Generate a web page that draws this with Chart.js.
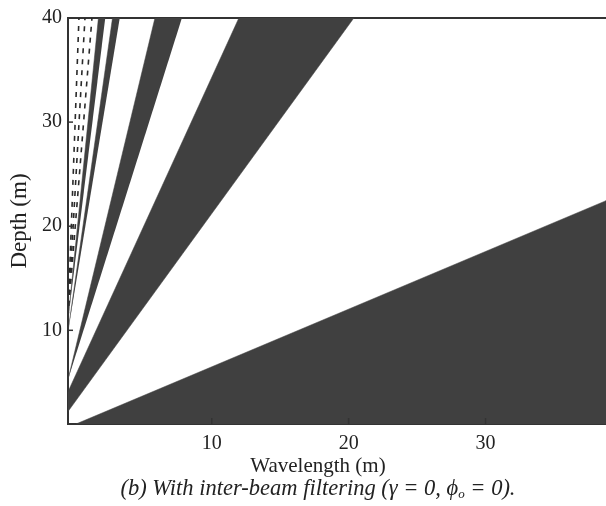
<!DOCTYPE html>
<html><head><meta charset="utf-8">
<script src="https://cdn.jsdelivr.net/npm/chart.js@4"></script>
<style>html,body{margin:0;padding:0;background:#fff}#wrap{width:606px;height:506px}</style>
</head><body><div id="wrap"><canvas id="c" width="606" height="506"></canvas></div>
<script>
// Axis ranges and tick labels
const wavelengthRange = [-0.5, 38.8];
const depthRange = [1, 40];
const wavelengthTicks = [10, 20, 30];
const depthTicks = [10, 20, 30, 40];

// Outlines of the dark regions, [wavelength, depth]
const wedgeBottom = [[0.08, 1], [38.8, 22.45], [38.8, 1]];
const wedgeWide   = [[-0.5, 4.1], [11.98, 40], [20.38, 40], [-0.5, 2.2]];
const wedgeMid    = [[-0.5, 5.27], [5.85, 40], [7.82, 40]];
const bandRight   = [[-0.5, 9.9], [2.75, 40], [3.28, 40]];
const bandLeft    = [[-0.5, 11.0], [1.72, 40], [2.22, 40]];
// Dashed lines
const dash1 = [[-0.5, 11.3], [0.30, 40]];
const dash2 = [[-0.5, 11.3], [0.74, 40]];
const dash3 = [[-0.5, 11.3], [1.25, 40]];

const FILL = '#404040';
const INK = '#222222';
const SERIF = '"Liberation Serif", "Times New Roman", serif';

const pts = a => a.map(p => ({x: p[0], y: p[1]}));
function shape(arr) {
  return {data: pts(arr), showLine: true, fill: 'shape', backgroundColor: FILL,
          borderColor: FILL, borderWidth: 0.5, pointRadius: 0, tension: 0};
}
function dashed(arr) {
  return {data: pts(arr), showLine: true, fill: false, borderColor: '#2a2a2a',
          borderWidth: 1.6, borderDash: [5, 6], pointRadius: 0};
}

const innerTicks = {
  id: 'innerTicks',
  afterDraw(chart) {
    const {ctx, chartArea: a, scales: {x, y}} = chart;
    ctx.save();
    ctx.strokeStyle = '#333'; ctx.lineWidth = 1.5;
    wavelengthTicks.forEach(v => {
      const px = x.getPixelForValue(v);
      ctx.beginPath(); ctx.moveTo(px, a.bottom); ctx.lineTo(px, a.bottom - 6); ctx.stroke();
    });
    depthTicks.forEach(v => {
      const py = y.getPixelForValue(v);
      ctx.beginPath(); ctx.moveTo(a.left, py); ctx.lineTo(a.left + 5, py); ctx.stroke();
    });
    ctx.restore();
  }
};

const texts = {
  id: 'texts',
  afterDraw(chart) {
    const ctx = chart.ctx;
    ctx.save();
    ctx.fillStyle = INK;
    ctx.textBaseline = 'middle';
    ctx.textAlign = 'center';
    ctx.font = '21px ' + SERIF;
    ctx.fillText('Wavelength (m)', 318, 466);
    // caption with subscript
    const p1 = '(b) With inter-beam filtering (\u03B3 = 0, \u03D5';
    const sub = 'o';
    const p2 = ' = 0).';
    const big = 'italic 22.5px ' + SERIF, small = 'italic 13px ' + SERIF;
    ctx.font = big; const w1 = ctx.measureText(p1).width, w3 = ctx.measureText(p2).width;
    ctx.font = small; const w2 = ctx.measureText(sub).width;
    let x0 = 318 - (w1 + w2 + w3) / 2;
    ctx.textAlign = 'left';
    ctx.font = big; ctx.fillText(p1, x0, 489);
    ctx.font = small; ctx.fillText(sub, x0 + w1, 495);
    ctx.font = big; ctx.fillText(p2, x0 + w1 + w2, 489);
    ctx.restore();
  }
};

new Chart(document.getElementById('c'), {
  type: 'scatter',
  data: {datasets: [
    shape(wedgeBottom), shape(wedgeWide), shape(wedgeMid), shape(bandRight), shape(bandLeft),
    dashed(dash1), dashed(dash2), dashed(dash3)
  ]},
  options: {
    responsive: false, animation: false, devicePixelRatio: 1,
    layout: {padding: {top: 18, right: 0, left: 0, bottom: 0}},
    plugins: {legend: {display: false}, tooltip: {enabled: false}, title: {display: false}},
    scales: {
      x: {
        type: 'linear', position: 'bottom', min: wavelengthRange[0], max: wavelengthRange[1],
        grid: {display: false, drawTicks: false},
        border: {display: true, color: '#333', width: 2},
        ticks: {font: {family: SERIF, size: 20}, color: INK, padding: 8, maxRotation: 0},
        afterBuildTicks: s => { s.ticks = wavelengthTicks.map(v => ({value: v})); },
        afterFit: s => { s.height = 82; }
      },
      xTop: {
        type: 'linear', position: 'top', min: wavelengthRange[0], max: wavelengthRange[1],
        grid: {display: false, drawTicks: false},
        border: {display: true, color: '#333', width: 2},
        ticks: {display: false},
        afterFit: s => { s.height = 0; }
      },
      y: {
        type: 'linear', position: 'left', min: depthRange[0], max: depthRange[1],
        grid: {display: false, drawTicks: false},
        border: {display: true, color: '#333', width: 2},
        ticks: {font: {family: SERIF, size: 20}, color: INK, padding: 6},
        afterBuildTicks: s => { s.ticks = depthTicks.map(v => ({value: v})); },
        title: {display: true, text: 'Depth (m)', color: INK, font: {family: SERIF, size: 23}, padding: {top: 6, bottom: 0}},
        afterFit: s => { s.width = 68; }
      }
    }
  },
  plugins: [innerTicks, texts]
});
</script></body></html>
